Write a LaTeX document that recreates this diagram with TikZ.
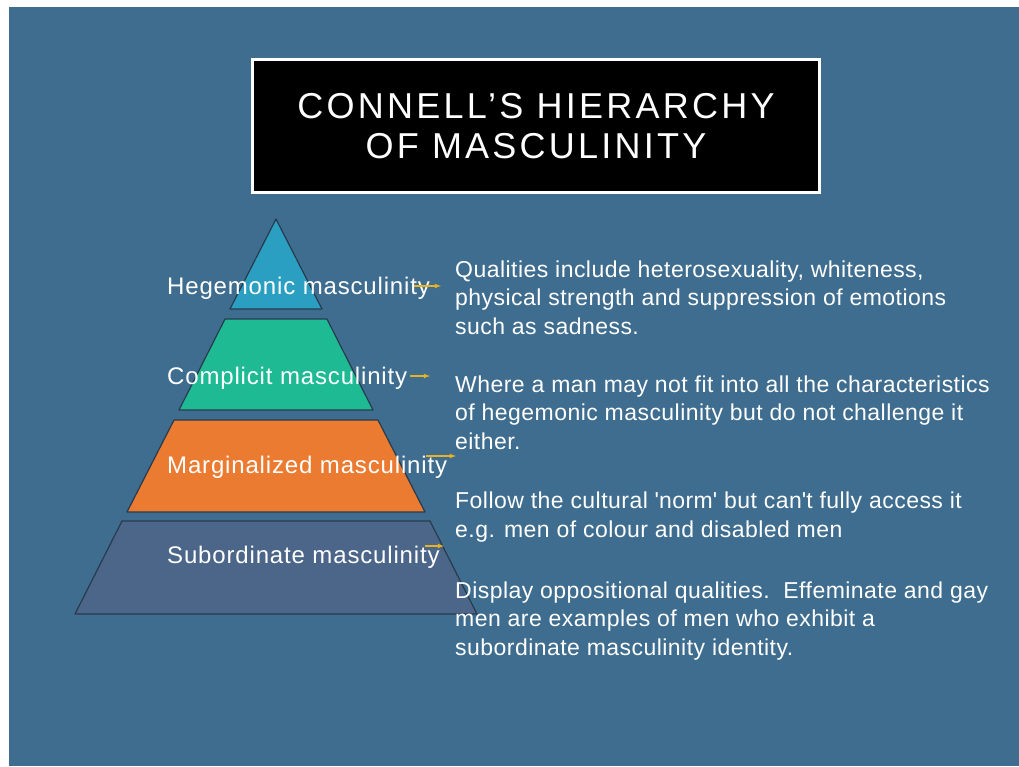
\documentclass[tikz,border=0pt]{standalone}
\usepackage{fontspec}
\setmainfont{Liberation Sans}
\definecolor{slidebg}{HTML}{3F6D8F}
\definecolor{tierA}{HTML}{2A9FC2}
\definecolor{tierB}{HTML}{1DBA94}
\definecolor{tierC}{HTML}{EA7B31}
\definecolor{tierD}{HTML}{4B6688}
\definecolor{tierline}{HTML}{283B4E}
\definecolor{pointer}{HTML}{E6B325}
\newcommand{\titlefont}{\fontsize{36}{40}\selectfont\addfontfeature{LetterSpace=9}}
\newcommand{\lblfont}{\fontsize{24}{28}\selectfont\addfontfeature{LetterSpace=3.5}}
\newcommand{\descfont}{\fontsize{23}{28.5}\selectfont\addfontfeature{LetterSpace=2}}

\begin{document}
\begin{tikzpicture}[x=1pt,y=-1pt,
    tier/.style={draw=tierline,line width=1.2pt,line join=round},
    lbl/.style={anchor=base west,inner sep=0pt,text=white,font=\lblfont},
    desc/.style={anchor=base west,inner sep=0pt,text=white,align=left,font=\descfont},
    ptr/.style={->,>=latex,draw=pointer,line width=1.1pt}]
    \useasboundingbox (0,0) rectangle (1019,766);
    \fill[slidebg] (9,7) rectangle (1019,766);
    % title
    \node[draw=white,line width=3pt,fill=black,text=white,align=center,font=\titlefont,
        minimum width=567pt,minimum height=133pt,inner sep=0pt] (title) at (536,126)
        {CONNELL’S HIERARCHY\\OF MASCULINITY};
    % pyramid
    \filldraw[tier,fill=tierA] (276,219) -- (322,309) -- (230,309) -- cycle;
    \filldraw[tier,fill=tierB] (225,319) -- (327,319) -- (373,410) -- (179,410) -- cycle;
    \filldraw[tier,fill=tierC] (174,420) -- (378,420) -- (425,512) -- (127,512) -- cycle;
    \filldraw[tier,fill=tierD] (122,521) -- (430,521) -- (477,614) -- (75,614) -- cycle;
    \node[lbl] (heg) at (167,294) {Hegemonic masculinity};
    \node[lbl] (comp) at (167,384) {Complicit masculinity};
    \node[lbl] (marg) at (167,473) {Marginalized masculinity};
    \node[lbl] (sub) at (167,563) {Subordinate masculinity};
    % descriptions (base = last line)
    \node[desc] (hegtxt) at (455,334) {Qualities include heterosexuality, whiteness,\\physical strength and suppression of emotions\\such as sadness.};
    \node[desc] (comptxt) at (455,449) {Where a man may not fit into all the characteristics\\of hegemonic masculinity but do not challenge it\\either.};
    \node[desc] (margtxt) at (455,537) {Follow the cultural \textquotesingle norm\textquotesingle\ but can\textquotesingle t fully access it\\e.g. men of colour and disabled men};
    \node[desc] (subtxt) at (455,655) {Display oppositional qualities.\ \ Effeminate and gay\\men are examples of men who exhibit a\\subordinate masculinity identity.};
    % pointers
    \coordinate (hegtip) at (441,286);
    \coordinate (comptip) at (430,376);
    \coordinate (margtip) at (456,456);
    \coordinate (subtip) at (444,546);
    \draw[ptr] ([xshift=-16pt]heg.east |- hegtip) -- (hegtip);
    \draw[ptr] ([xshift=3pt]comp.east |- comptip) -- (comptip);
    \draw[ptr] ([xshift=-21pt]marg.east |- margtip) -- (margtip);
    \draw[ptr] ([xshift=-15pt]sub.east |- subtip) -- (subtip);
\end{tikzpicture}
\end{document}
